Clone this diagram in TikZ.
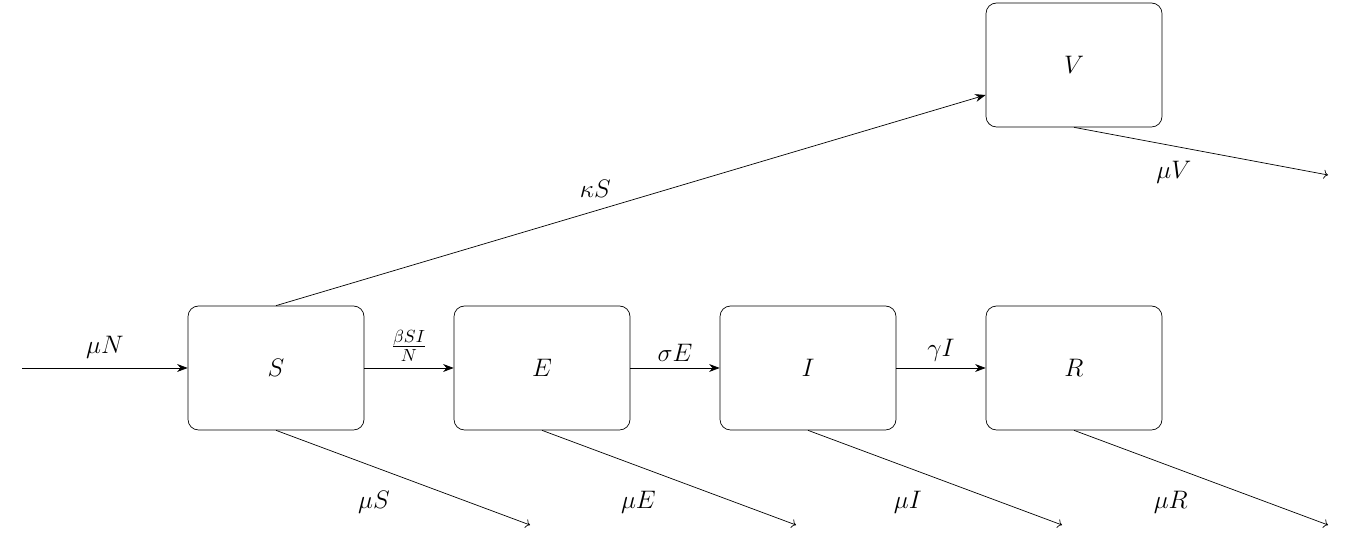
\documentclass[tikz,border=0pt]{standalone}
\usetikzlibrary{arrows.meta}
\tikzset{
  box/.style={draw, rounded corners=6pt, minimum width=3.52cm, minimum height=2.48cm, font=\Large},
  flow/.style={-{Stealth[length=6pt]}},
  death/.style={->},
  lab/.style={font=\Large}
}
\begin{document}
\begin{tikzpicture}
\useasboundingbox (0,0) rectangle (27.06,10.72);
% compartments
\node[box] (S) at (5.52,3.36) {$S$};
\node[box] (E) at (10.84,3.36) {$E$};
\node[box] (I) at (16.16,3.36) {$I$};
\node[box] (R) at (21.48,3.36) {$R$};
\node[box] (V) at (21.48,9.42) {$V$};

% inflow and transitions
\coordinate (in) at (0.44,3.36);
\draw[flow] (in) -- node[lab, above=2pt] {$\mu N$} (S);
\draw[flow] (S) -- node[lab, above] {$\frac{\beta S I}{N}$} (E);
\draw[flow] (E) -- node[lab, above] {$\sigma E$} (I);
\draw[flow] (I) -- node[lab, above] {$\gamma I$} (R);
\draw[flow] (S.north) -- node[lab, above=4pt, pos=0.45] {$\kappa S$} ([yshift=-0.6cm]V.west);

% deaths
\foreach \n/\x in {S/10.6, E/15.92, I/21.24, R/26.56} {
  \coordinate (d\n) at (\x,0.22);
  \draw[death] (\n.south) -- node[lab, below left=4pt, pos=0.5] {$\mu \n$} (d\n);
}
\coordinate (dV) at (26.56,7.22);
\draw[death] (V.south) -- node[lab, below left=2pt, pos=0.5] {$\mu V$} (dV);
\end{tikzpicture}
\end{document}
